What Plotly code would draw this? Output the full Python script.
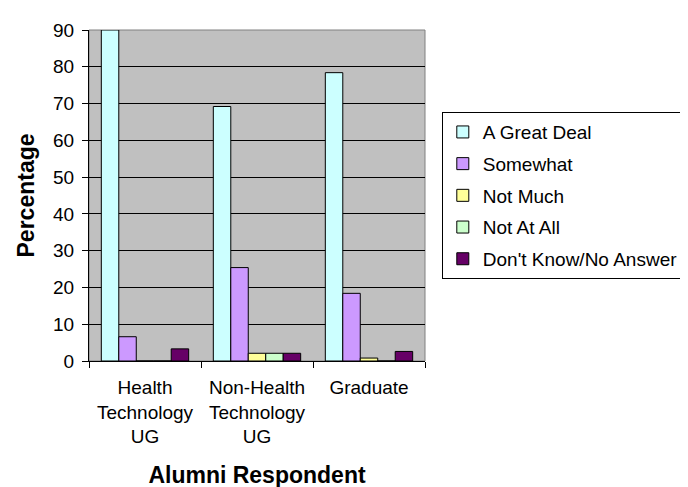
import plotly.graph_objects as go

# alumni survey responses, percent
groups = ['Health<br>Technology<br>UG', 'Non-Health<br>Technology<br>UG', 'Graduate']
a_great_deal = [90, 69.2, 78.4]
somewhat = [6.6, 25.4, 18.4]
not_much = [0, 2.1, 0.8]
not_at_all = [0, 2.1, 0]
dont_know = [3.3, 2.1, 2.6]

series = [
    ('A Great Deal', a_great_deal, '#CCFFFF'),
    ('Somewhat', somewhat, '#CC99FF'),
    ('Not Much', not_much, '#FFFF99'),
    ('Not At All', not_at_all, '#CCFFCC'),
    ("Don't Know/No Answer", dont_know, '#660066'),
]

font = 'Liberation Sans, Arial, sans-serif'

fig = go.Figure()
for name, vals, col in series:
    fig.add_trace(go.Bar(
        x=groups, y=vals, name=name, legendgroup=name,
        marker=dict(color=col, line=dict(color='black', width=1)),
    ))

# gray border round the plot area
fig.add_shape(type='rect', xref='paper', yref='paper', x0=0, x1=1, y0=0, y1=1,
              line=dict(color='#808080', width=1), layer='below')

fig.update_layout(
    width=688, height=487,
    margin=dict(l=81, r=248, t=20, b=128),
    paper_bgcolor='white', plot_bgcolor='#C0C0C0',
    font=dict(family=font, size=19, color='black'),
    barmode='group', bargap=0.22, bargroupgap=0,
    showlegend=True,
    legend=dict(x=1.05, y=0.752, xanchor='left', yanchor='top',
                bgcolor='white', bordercolor='black', borderwidth=1,
                font=dict(size=19), tracegroupgap=4, itemwidth=30),
)
fig.update_xaxes(
    showline=True, linecolor='black', linewidth=1,
    ticks='outside', ticklen=6, tickcolor='black', tickson='boundaries',
    ticklabelstandoff=9,
    showgrid=False,
    title=dict(text='<b>Alumni Respondent</b>', standoff=20),
)
fig.update_yaxes(
    range=[0, 90], dtick=10,
    showline=True, linecolor='black', linewidth=1,
    ticks='outside', ticklen=6, tickcolor='black', ticklabelstandoff=4,
    showgrid=True, gridcolor='black', gridwidth=1, zeroline=False,
    title=dict(text='<b>Percentage</b>', standoff=12),
)

fig.write_html('out.html')
